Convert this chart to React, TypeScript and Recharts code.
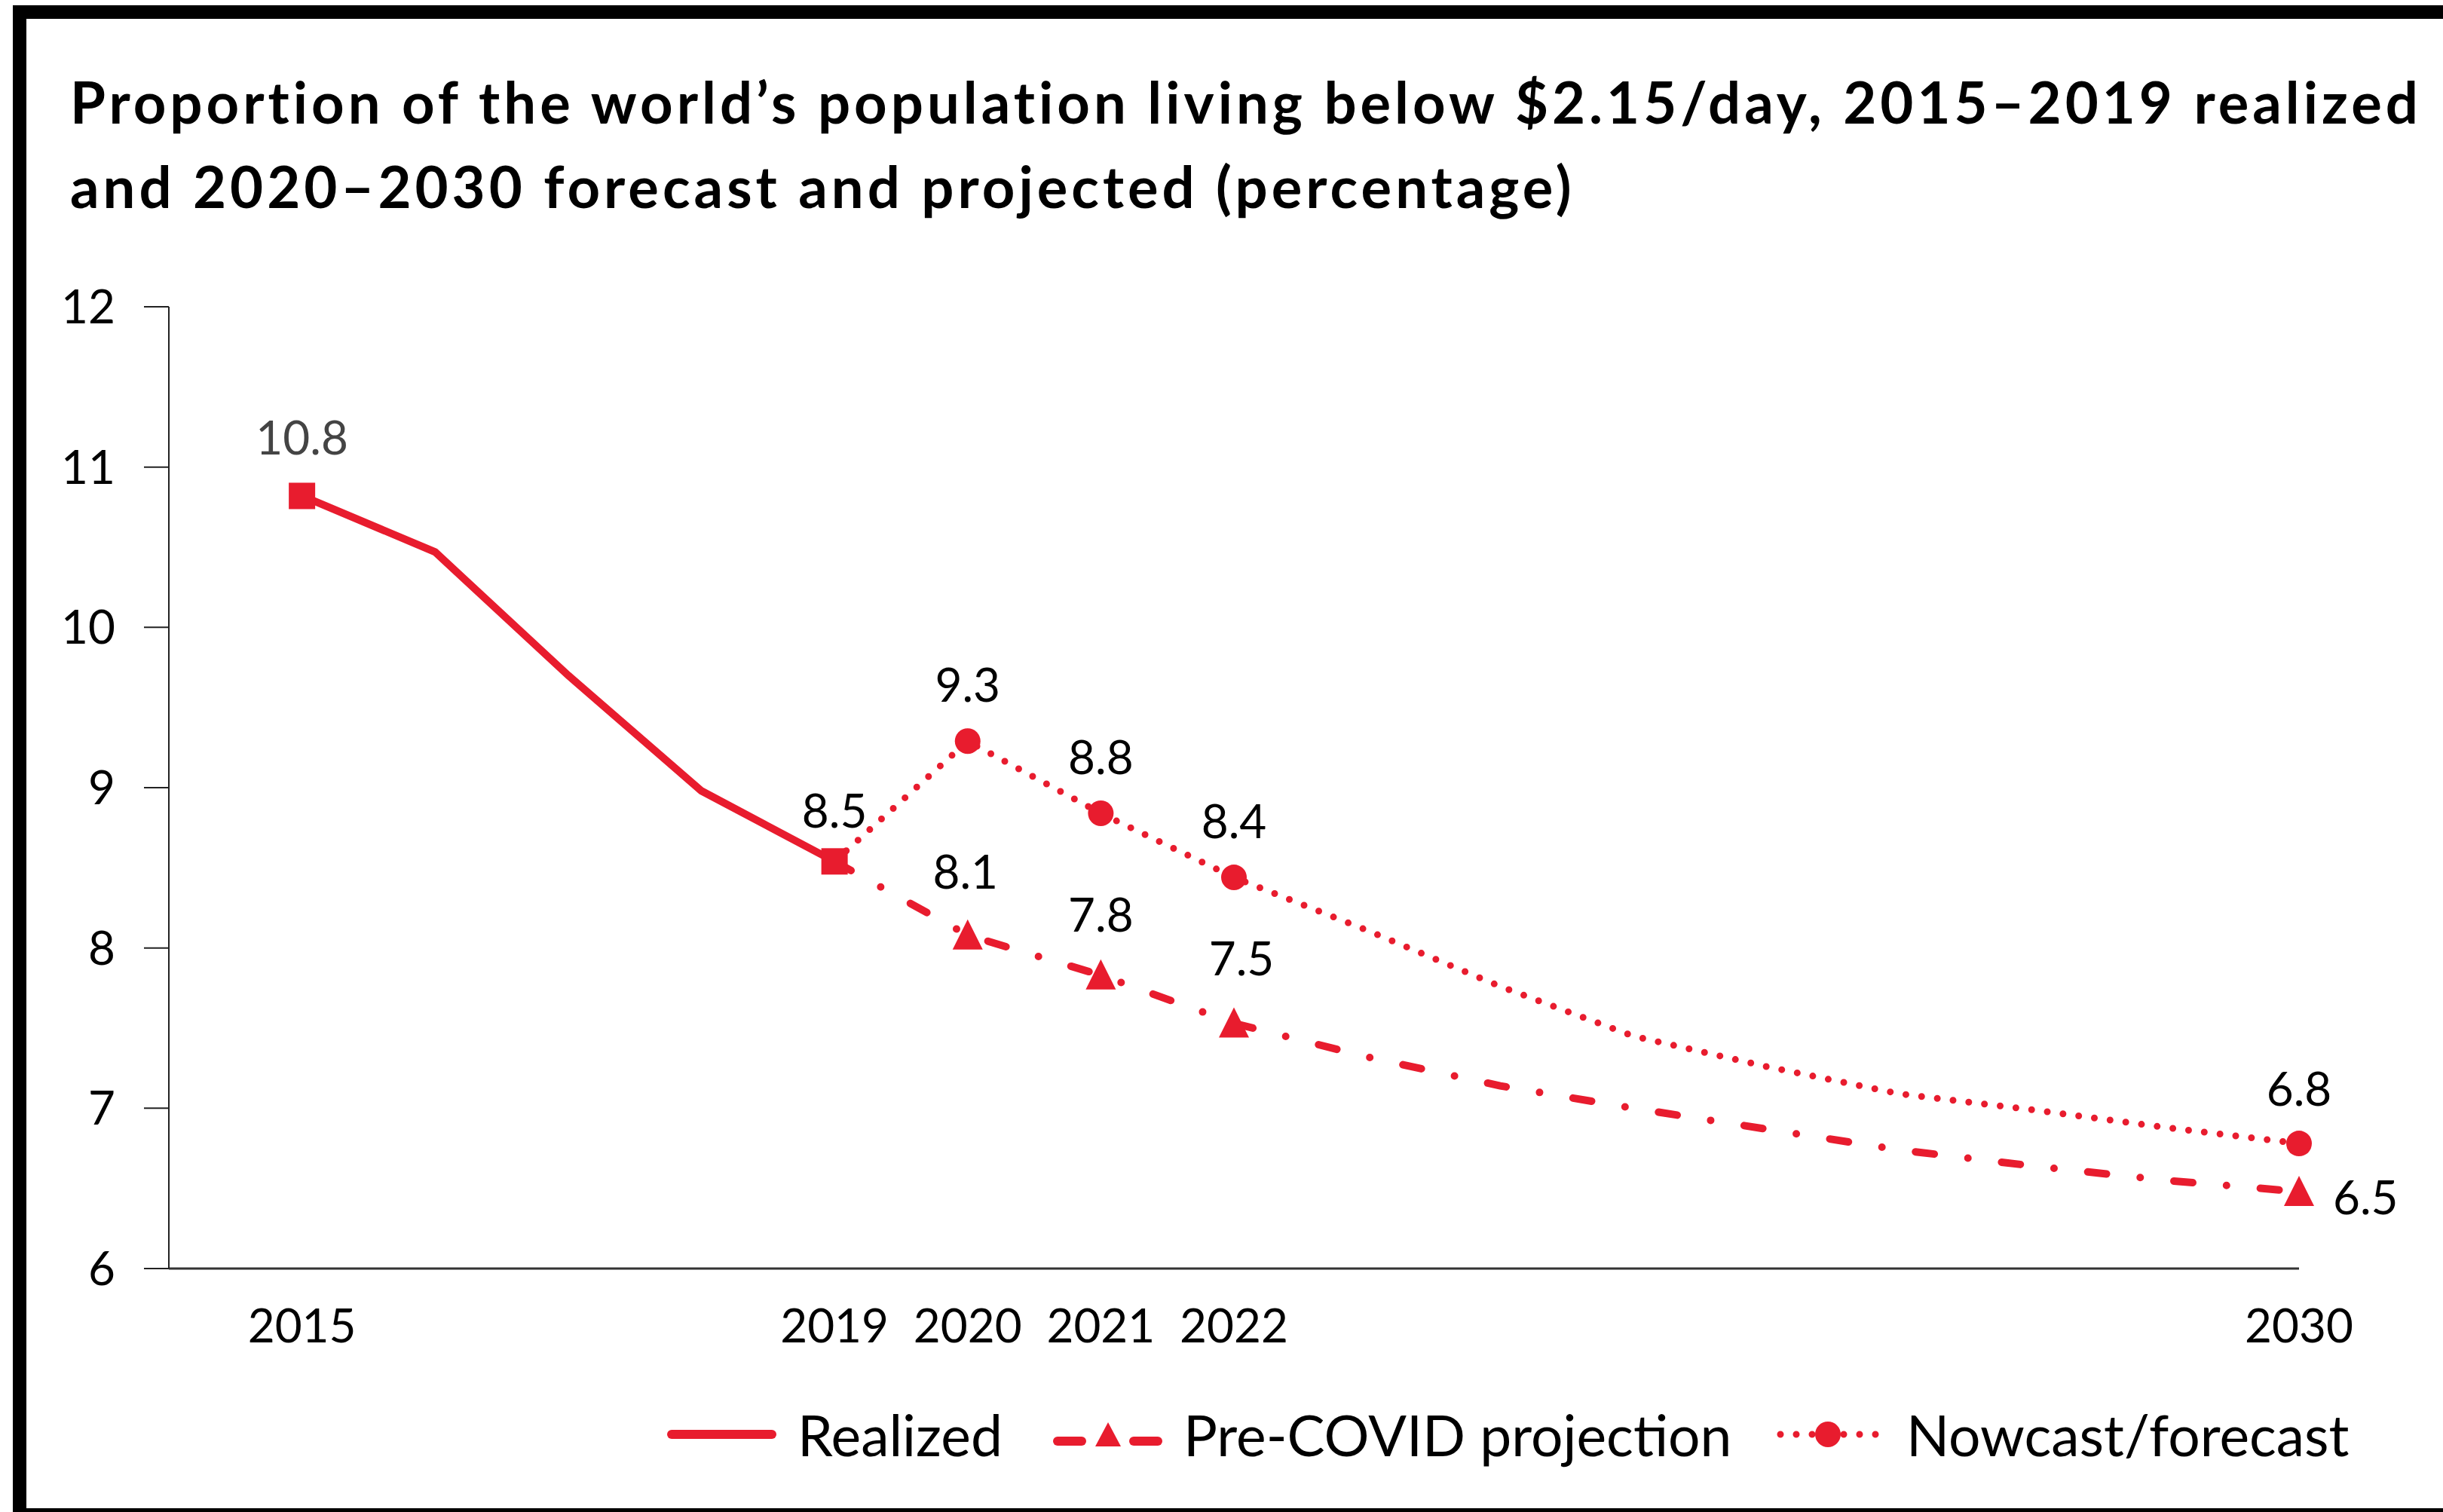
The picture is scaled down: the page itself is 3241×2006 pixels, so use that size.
import { LineChart, Line, XAxis, YAxis, Legend, LabelList } from "recharts";

const RED = "#E81C2E";
const FONT = "Lato, 'Open Sans', sans-serif";

const years = [2015, 2016, 2017, 2018, 2019, 2020, 2021, 2022, 2023, 2024, 2025, 2026, 2027, 2028, 2029, 2030];
const realized = [10.82, 10.47, 9.7, 8.98, 8.54, null, null, null, null, null, null, null, null, null, null, null];
const preCovid = [null, null, null, null, 8.54, 8.08, 7.83, 7.53, 7.32, 7.14, 7.0, 6.87, 6.74, 6.64, 6.55, 6.48];
const nowcast = [null, null, null, null, 8.54, 9.29, 8.84, 8.44, 8.11, 7.76, 7.45, 7.26, 7.09, 6.99, 6.88, 6.78];

const xTicks = [2015, 2019, 2020, 2021, 2022, 2030];
const yTicks = [6, 7, 8, 9, 10, 11, 12];

// years that carry a marker + value label
const realizedMarked = [2015, 2019];
const projMarked = [2020, 2021, 2022, 2030];

const legendOrder = ["realized", "preCovid", "nowcast"];
const seriesNames: Record<string, string> = {
  realized: "Realized",
  preCovid: "Pre-COVID projection",
  nowcast: "Nowcast/forecast",
};

const data = years.map((year, i) => ({
  year,
  realized: realized[i],
  preCovid: preCovid[i],
  nowcast: nowcast[i],
}));

// label placement relative to the point (styling only)
const labelPos: Record<string, { dx: number; dy: number; anchor?: string; fill?: string }> = {
  "realized-2015": { dx: 0, dy: -55, fill: "#444" },
  "realized-2019": { dx: 0, dy: -45 },
  "nowcast-2020": { dx: 0, dy: -52 },
  "nowcast-2021": { dx: 0, dy: -52 },
  "nowcast-2022": { dx: 0, dy: -52 },
  "nowcast-2030": { dx: 0, dy: -50 },
  "preCovid-2020": { dx: -3, dy: -62 },
  "preCovid-2021": { dx: 0, dy: -58 },
  "preCovid-2022": { dx: 10, dy: -64 },
  "preCovid-2030": { dx: 45, dy: 30, anchor: "start" },
};

const makeLabel = (key: string) => (props: any) => {
  const { x, y, value, index } = props;
  const pos = labelPos[`${key}-${years[index]}`];
  if (!pos || value == null) return null;
  return (
    <text
      x={x + pos.dx}
      y={y + pos.dy}
      textAnchor={pos.anchor || "middle"}
      fontSize={62}
      fontFamily={FONT}
      fill={pos.fill || "#000"}
    >
      {Number(value).toFixed(1)}
    </text>
  );
};

const squareDot = (props: any) => {
  const { cx, cy, index } = props;
  if (cy == null || !realizedMarked.includes(years[index])) return <g key={`sq-${index}`} />;
  return <rect key={`sq-${index}`} x={cx - 17.5} y={cy - 17.5} width={35} height={35} fill={RED} />;
};

const triangleDot = (props: any) => {
  const { cx, cy, index } = props;
  if (cy == null || !projMarked.includes(years[index])) return <g key={`tr-${index}`} />;
  return (
    <polygon
      key={`tr-${index}`}
      points={`${cx},${cy - 21} ${cx - 20},${cy + 19} ${cx + 20},${cy + 19}`}
      fill={RED}
    />
  );
};

const circleDot = (props: any) => {
  const { cx, cy, index } = props;
  if (cy == null || !projMarked.includes(years[index])) return <g key={`ci-${index}`} />;
  return <circle key={`ci-${index}`} cx={cx} cy={cy} r={17} fill={RED} />;
};

const LegendIcon = ({ k }: { k: string }) => {
  if (k === "realized") {
    return (
      <svg width={145} height={60}>
        <line x1={6} x2={139} y1={30} y2={30} stroke={RED} strokeWidth={12} strokeLinecap="round" />
      </svg>
    );
  }
  if (k === "preCovid") {
    return (
      <svg width={145} height={60}>
        <line x1={6} x2={38} y1={39} y2={39} stroke={RED} strokeWidth={12} strokeLinecap="round" />
        <polygon points="73,14 56,46 90,46" fill={RED} />
        <line x1={107} x2={139} y1={39} y2={39} stroke={RED} strokeWidth={12} strokeLinecap="round" />
      </svg>
    );
  }
  return (
    <svg width={145} height={60}>
      <line x1={6} x2={140} y1={30} y2={30} stroke={RED} strokeWidth={9} strokeLinecap="round" strokeDasharray="0 21" />
      <circle cx={69} cy={30} r={17} fill={RED} />
    </svg>
  );
};

const legendX: Record<string, number> = { realized: 0, preCovid: 512, nowcast: 1471 };

const renderLegend = () => (
  <div style={{ position: "relative", width: 2300, height: 90, fontFamily: FONT }}>
    {legendOrder.map((k) => (
      <div
        key={k}
        style={{ position: "absolute", left: legendX[k], top: 0, display: "flex", alignItems: "center", height: 90 }}
      >
        <LegendIcon k={k} />
        <span style={{ marginLeft: 28, fontSize: 75, lineHeight: "90px", color: "#000", whiteSpace: "nowrap" }}>
          {seriesNames[k]}
        </span>
      </div>
    ))}
  </div>
);

export default function App() {
  return (
    <div
      style={{
        position: "absolute",
        left: 0,
        top: 0,
        width: 3241,
        height: 2006,
        overflow: "hidden",
        background: "#fff",
        fontFamily: FONT,
      }}
    >
      <div
        style={{
          position: "absolute",
          left: 17,
          top: 7,
          width: 3300,
          height: 2012,
          boxSizing: "border-box",
          borderTop: "18px solid #000",
          borderLeft: "18px solid #000",
          borderBottom: "18px solid #000",
        }}
      />
      <div
        style={{
          position: "absolute",
          left: 93,
          top: 79,
          fontSize: 76,
          lineHeight: "112px",
          fontWeight: 700,
          letterSpacing: 5,
          color: "#000",
          whiteSpace: "nowrap",
        }}
      >
        Proportion of the world’s population living below $2.15/day, 2015–2019 realized
        <br />
        and 2020–2030 forecast and projected (percentage)
      </div>
      <div style={{ position: "absolute", left: 0, top: 0 }}>
        <LineChart width={3241} height={2006} data={data} margin={{ top: 407, right: 191, bottom: 223, left: 0 }}>
          <XAxis
            dataKey="year"
            type="number"
            domain={[2014, 2030]}
            ticks={xTicks}
            tickLine={false}
            tickSize={0}
            tickMargin={54}
            height={100}
            axisLine={{ stroke: "#333", strokeWidth: 3 }}
            tick={{ fontSize: 62, fill: "#000", fontFamily: FONT }}
          />
          <YAxis
            domain={[6, 12]}
            ticks={yTicks}
            width={224}
            tickSize={33}
            tickMargin={38}
            axisLine={{ stroke: "#222", strokeWidth: 2 }}
            tickLine={{ stroke: "#222", strokeWidth: 2 }}
            tick={{ fontSize: 62, fill: "#000", fontFamily: FONT }}
          />
          <Legend
            verticalAlign="middle"
            align="center"
            layout="horizontal"
            content={renderLegend}
            wrapperStyle={{ left: 885, top: 1858, width: 2300, height: 90 }}
          />
          <Line
            dataKey="preCovid"
            name={seriesNames.preCovid}
            stroke={RED}
            strokeWidth={10}
            strokeLinecap="round"
            strokeDasharray="25 45 0 45"
            dot={triangleDot}
            activeDot={false}
            isAnimationActive={false}
          >
            <LabelList dataKey="preCovid" content={makeLabel("preCovid")} />
          </Line>
          <Line
            dataKey="nowcast"
            name={seriesNames.nowcast}
            stroke={RED}
            strokeWidth={9}
            strokeLinecap="round"
            strokeDasharray="0 21"
            dot={circleDot}
            activeDot={false}
            isAnimationActive={false}
          >
            <LabelList dataKey="nowcast" content={makeLabel("nowcast")} />
          </Line>
          <Line
            dataKey="realized"
            name={seriesNames.realized}
            stroke={RED}
            strokeWidth={10}
            dot={squareDot}
            activeDot={false}
            isAnimationActive={false}
          >
            <LabelList dataKey="realized" content={makeLabel("realized")} />
          </Line>
        </LineChart>
      </div>
    </div>
  );
}
